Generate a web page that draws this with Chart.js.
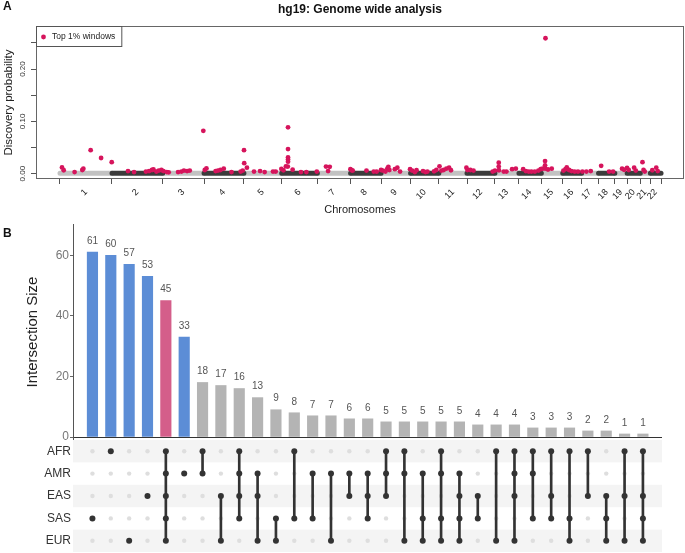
<!DOCTYPE html>
<html>
<head>
<meta charset="utf-8">
<script src="https://cdn.jsdelivr.net/npm/chart.js@4.4.1/dist/chart.umd.min.js"></script>
<style>
  body { margin: 0; background: #fff; width: 685px; height: 553px; position: relative; overflow: hidden; font-family: "Liberation Sans", Arial, sans-serif; }
  #panelA { position: absolute; left: 0; top: 0; }
  #panelB { position: absolute; left: 0; top: 220px; }
  .tag { position: absolute; font-weight: bold; font-size: 12px; line-height: 12px; color: #111; }
</style>
</head>
<body>
<canvas id="panelA" width="685" height="220"></canvas>
<canvas id="panelB" width="685" height="333"></canvas>
<div class="tag" style="left:3px;top:0px">A</div>
<div class="tag" style="left:3px;top:227px">B</div>
<script>
// ---- panel A : genome wide scan (hg19) ----
const chromosomes = ['1','2','3','4','5','6','7','8','9','10','11','12','13','14','15','16','17','18','19','20','21','22'];
const chromLengthMb = [249.25, 243.20, 198.02, 191.15, 180.92, 171.12, 159.14, 146.36, 141.21, 135.53, 135.01,
                       133.85, 115.17, 107.35, 102.53, 90.35, 81.20, 78.08, 59.13, 63.03, 48.13, 51.30];
const bandGaps = [[125, 135]];          // unassembled stretch on chr1 (genome Mb)
const backgroundLevel = 0.001;          // all other windows sit on the floor
const yTicks = [0, 0.05, 0.10, 0.15, 0.20, 0.25];
const yTickLabels = ['0.00', '', '0.10', '', '0.20', ''];

// top 1% windows : genome position (Mb, cumulative) and discovery probability
const topWindowPos = [
  9.6, 17.7, 70, 107, 112, 147, 197, 248,
  326, 355, 412, 427, 441, 448, 462, 473, 486,
  496, 512, 521, 566, 582, 594, 609, 622, 687,
  694, 702, 746, 757, 769, 785, 822, 866, 876,
  882, 883, 896, 930, 959, 981, 1021, 1034, 1061,
  1071, 1083, 1093, 1093, 1093, 1093, 1093, 1092, 1115, 1155, 1181, 1231,
  1275, 1285, 1293, 1392, 1398, 1403,
  1469, 1504, 1518, 1539,
  1548, 1560, 1569, 1574, 1579, 1605, 1617, 1630, 1678,
  1688, 1701, 1709, 1740, 1752, 1761, 1793, 1804, 1819,
  1828, 1839, 1852, 1865, 1874, 1948,
  1953, 1967, 1982, 2074, 2085,
  2103, 2103, 2104, 2127, 2140, 2167, 2185,
  2220, 2233, 2247, 2260, 2276, 2293, 2304,
  2313, 2325, 2325, 2326, 2327, 2339, 2357,
  2413, 2423, 2429, 2440, 2452, 2467, 2483,
  2504, 2523, 2544,
  2594, 2632, 2651,
  2694, 2704, 2718,
  2726, 2752, 2760,
  2792, 2797, 2803,
  2839, 2858, 2865
];
const topWindowProb = [
  0.012, 0.0065, 0.003, 0.007, 0.0095, 0.045, 0.030, 0.022,
  0.005, 0.003, 0.004, 0.005, 0.007, 0.008, 0.004, 0.006, 0.007,
  0.005, 0.003, 0.0025, 0.003, 0.004, 0.006, 0.005, 0.006, 0.082,
  0.007, 0.010, 0.005, 0.006, 0.007, 0.0095, 0.003, 0.004, 0.006,
  0.045, 0.020, 0.0115, 0.004, 0.005, 0.003, 0.004, 0.004, 0.009,
  0.0065, 0.014, 0.0887, 0.047, 0.031, 0.027, 0.023, 0.0135, 0.0077, 0.003, 0.003, 0.004,
  0.0135, 0.005, 0.013, 0.0085, 0.0065, 0.006,
  0.006, 0.004, 0.004, 0.007,
  0.006, 0.004, 0.0095, 0.013, 0.007, 0.0085, 0.0115, 0.004, 0.0085,
  0.006, 0.003, 0.0065, 0.005, 0.003, 0.004, 0.0045, 0.007, 0.014,
  0.006, 0.007, 0.0095, 0.0115, 0.0065, 0.0115,
  0.007, 0.007, 0.006, 0.004, 0.006,
  0.021, 0.0135, 0.0065, 0.004, 0.004, 0.0085, 0.0095,
  0.0085, 0.005, 0.004, 0.004, 0.004, 0.006, 0.0085,
  0.0095, 0.024, 0.016, 0.0095, 0.259, 0.008, 0.0095,
  0.006, 0.0085, 0.012, 0.007, 0.005, 0.004, 0.004,
  0.004, 0.004, 0.005,
  0.015, 0.004, 0.004,
  0.0095, 0.0075, 0.011,
  0.007, 0.0115, 0.006,
  0.022, 0.007, 0.004,
  0.0065, 0.0115, 0.005
];

// ---- panel B : UpSet of population intersections ----
const populations = ['AFR', 'AMR', 'EAS', 'SAS', 'EUR'];
const intersectionSizes = [61, 60, 57, 53, 45, 33, 18, 17, 16, 13, 9, 8, 7, 7, 6, 6, 5, 5, 5, 5, 5, 4, 4, 4, 3, 3, 3, 2, 2, 1, 1];
const intersectionSets = [
  ['SAS'], ['AFR'], ['EUR'], ['EAS'], ['AFR', 'AMR', 'EAS', 'SAS', 'EUR'], ['AMR'],
  ['AFR', 'AMR'], ['EAS', 'EUR'], ['AFR', 'AMR', 'EAS', 'SAS'], ['AMR', 'EAS', 'EUR'], ['SAS', 'EUR'],
  ['AFR', 'SAS'], ['AMR', 'SAS'], ['AMR', 'EUR'], ['AMR', 'EAS'], ['AMR', 'EAS', 'SAS'],
  ['AFR', 'AMR', 'EAS'], ['AFR', 'AMR', 'EUR'], ['AMR', 'SAS', 'EUR'], ['AFR', 'AMR', 'SAS', 'EUR'],
  ['AMR', 'EAS', 'SAS', 'EUR'], ['EAS', 'SAS'], ['AFR', 'EUR'], ['AFR', 'AMR', 'EAS', 'EUR'],
  ['AFR', 'AMR', 'SAS'], ['AFR', 'EAS', 'SAS'], ['AFR', 'SAS', 'EUR'], ['AFR', 'EAS'],
  ['EAS', 'SAS', 'EUR'], ['AFR', 'EAS', 'EUR'], ['AFR', 'EAS', 'SAS', 'EUR']
];
const sizeTicks = [0, 20, 40, 60];

Chart.defaults.font.family = '"Liberation Sans", Arial, sans-serif';

// chromosome layout on the genome axis
const chromStart = [];
let genomeEnd = 0;
chromLengthMb.forEach(len => { chromStart.push(genomeEnd); genomeEnd += len; });

function bandData(parity) {
  const out = [];
  chromosomes.forEach((c, i) => {
    if (i % 2 !== parity) return;
    let segs = [[chromStart[i], chromStart[i] + chromLengthMb[i]]];
    bandGaps.forEach(([g0, g1]) => {
      segs = segs.flatMap(([a, b]) => (g0 > a && g1 < b) ? [[a, g0], [g1, b]] : [[a, b]]);
    });
    segs.forEach(([a, b]) => {
      out.push({x: a, y: backgroundLevel}, {x: b, y: backgroundLevel}, {x: b, y: null});
    });
  });
  return out;
}

const TOP_COLOR = '#D6145C';

// box, top-left legend and rotated y labels, R style
const frameBox = {
  id: 'frameBox',
  afterDraw(chart) {
    const a = chart.chartArea, c = chart.ctx;
    c.save();
    c.strokeStyle = '#666';
    c.lineWidth = 1;
    c.strokeRect(a.left + 0.5, a.top + 0.5, a.right - a.left - 1, a.bottom - a.top - 1);

    const label = chart.data.datasets[0].label;
    c.font = '8.5px "Liberation Sans", Arial, sans-serif';
    const w = c.measureText(label).width;
    c.strokeStyle = '#555';
    c.fillStyle = '#fff';
    c.fillRect(a.left + 0.5, a.top + 0.5, w + 22, 20);
    c.strokeRect(a.left + 0.5, a.top + 0.5, w + 22, 20);
    c.fillStyle = TOP_COLOR;
    c.beginPath();
    c.arc(a.left + 7.5, a.top + 11, 2.4, 0, Math.PI * 2);
    c.fill();
    c.fillStyle = '#222';
    c.textBaseline = 'middle';
    c.fillText(label, a.left + 16, a.top + 11);
    c.restore();
  }
};

const verticalYLabels = {
  id: 'verticalYLabels',
  afterDraw(chart) {
    const s = chart.scales.y, c = chart.ctx;
    c.save();
    c.font = '8px "Liberation Sans", Arial, sans-serif';
    c.fillStyle = '#333';
    c.textAlign = 'center';
    c.textBaseline = 'middle';
    yTicks.forEach((v, i) => {
      if (!yTickLabels[i]) return;
      c.save();
      c.translate(s.right - 13, s.getPixelForValue(v));
      c.rotate(-Math.PI / 2);
      c.fillText(yTickLabels[i], 0, 0);
      c.restore();
    });
    c.restore();
  }
};

new Chart(document.getElementById('panelA'), {
  type: 'scatter',
  data: {
    datasets: [
      {
        label: 'Top 1% windows',
        data: topWindowPos.map((x, i) => ({x: x, y: topWindowProb[i]})),
        backgroundColor: TOP_COLOR,
        borderWidth: 0,
        pointRadius: 2.4,
        order: 0
      },
      {
        label: 'windows (odd)',
        data: bandData(0),
        showLine: true,
        spanGaps: false,
        borderColor: '#C2C2C2',
        borderWidth: 5,
        borderCapStyle: 'round',
        pointRadius: 0,
        order: 2
      },
      {
        label: 'windows (even)',
        data: bandData(1),
        showLine: true,
        spanGaps: false,
        borderColor: '#3C3C3C',
        borderWidth: 5,
        borderCapStyle: 'round',
        pointRadius: 0,
        order: 1
      }
    ]
  },
  options: {
    responsive: false,
    animation: false,
    layout: {autoPadding: false, padding: {left: 0, right: 1, top: 0, bottom: 0}},
    plugins: {
      title: {
        display: true,
        text: 'hg19: Genome wide analysis',
        fullSize: false,
        color: '#111',
        font: {size: 12, weight: 'bold'},
        padding: {top: 2, bottom: 9.6}
      },
      legend: {display: false},
      tooltip: {enabled: false}
    },
    scales: {
      x: {
        type: 'linear',
        min: -115,
        max: 2991,
        afterBuildTicks: s => {
          const t = chromStart.map(v => ({value: v, chrLabel: ''}));
          t.push({value: genomeEnd, chrLabel: ''});
          chromosomes.forEach((c, i) => t.push({value: chromStart[i] + chromLengthMb[i] / 2, chrLabel: c}));
          t.sort((a, b) => a.value - b.value);
          s.ticks = t;
        },
        ticks: {
          autoSkip: false,
          minRotation: 45,
          maxRotation: 45,
          padding: 3,
          color: '#222',
          font: {size: 9},
          callback: (v, i, ticks) => ticks[i].chrLabel
        },
        grid: {
          drawOnChartArea: false,
          tickLength: 5,
          tickColor: ctx => (ctx.tick && ctx.tick.chrLabel) ? 'rgba(0,0,0,0)' : '#555'
        },
        border: {display: false},
        title: {display: true, text: 'Chromosomes', color: '#222', font: {size: 11}, padding: {top: 0, bottom: 3}},
        afterFit: s => { s.height = 41; s.paddingLeft = 0; s.paddingRight = 0; }
      },
      y: {
        min: -0.0102,
        max: 0.2824,
        afterBuildTicks: s => { s.ticks = yTicks.map(v => ({value: v})); },
        ticks: {display: false},
        grid: {drawOnChartArea: false, tickLength: 5, tickColor: '#555'},
        border: {display: false},
        title: {display: true, text: 'Discovery probability', color: '#222', font: {size: 11.5}, padding: {top: 1.5, bottom: 0}},
        afterFit: s => { s.width = 36; s.paddingTop = 0; s.paddingBottom = 0; }
      }
    }
  },
  plugins: [frameBox, verticalYLabels]
});

// ---- panel B ----
const rowOf = Object.fromEntries(populations.map((p, i) => [p, i]));
const barColors = intersectionSets.map(set =>
  set.length === 1 ? '#5C8DD6' : (set.length === populations.length ? '#D45E8A' : '#B4B4B4'));
const activeDots = [], inactiveDots = [];
intersectionSets.forEach((set, col) => {
  populations.forEach((p, row) => (set.includes(p) ? activeDots : inactiveDots).push({x: col, y: row}));
});
const connectors = intersectionSets
  .map((set, col) => ({x: col, rows: set.map(p => rowOf[p])}))
  .filter(d => d.rows.length > 1)
  .map(d => ({x: d.x, y: [Math.min(...d.rows), Math.max(...d.rows)]}));

const rowStripes = {
  id: 'rowStripes',
  beforeDatasetsDraw(chart) {
    const s = chart.scales.y2, a = chart.chartArea, c = chart.ctx;
    c.save();
    c.fillStyle = '#F4F4F4';
    populations.forEach((p, i) => {
      if (i % 2) return;
      const t = s.getPixelForValue(i - 0.5), b = s.getPixelForValue(i + 0.5);
      c.fillRect(a.left, Math.min(t, b), a.right - a.left, Math.abs(b - t));
    });
    c.restore();
  }
};

const barValueLabels = {
  id: 'barValueLabels',
  afterDatasetsDraw(chart) {
    const meta = chart.getDatasetMeta(0), c = chart.ctx;
    c.save();
    c.font = '10px "Liberation Sans", Arial, sans-serif';
    c.fillStyle = '#555';
    c.textAlign = 'center';
    c.textBaseline = 'middle';
    meta.data.forEach((bar, i) => c.fillText(String(intersectionSizes[i]), bar.x, bar.y - 11));
    c.restore();
  }
};

new Chart(document.getElementById('panelB'), {
  type: 'bar',
  data: {
    datasets: [
      {
        label: 'Intersection size',
        data: intersectionSizes.map((v, i) => ({x: i, y: v})),
        backgroundColor: barColors,
        barThickness: 10.5,
        grouped: false,
        yAxisID: 'y',
        order: 3
      },
      {
        label: 'links',
        data: connectors,
        backgroundColor: '#333',
        barThickness: 2,
        grouped: false,
        yAxisID: 'y2',
        order: 1
      },
      {
        type: 'scatter',
        label: 'not in set',
        data: inactiveDots,
        backgroundColor: '#DEDEDE',
        borderWidth: 0,
        pointRadius: 2.2,
        yAxisID: 'y2',
        order: 2
      },
      {
        type: 'scatter',
        label: 'in set',
        data: activeDots,
        backgroundColor: '#333',
        borderWidth: 0,
        pointRadius: 3,
        yAxisID: 'y2',
        order: 0
      }
    ]
  },
  options: {
    responsive: false,
    animation: false,
    layout: {autoPadding: false, padding: {left: 0, right: 23, top: 4, bottom: 1}},
    plugins: {legend: {display: false}, tooltip: {enabled: false}},
    scales: {
      x: {type: 'linear', min: -1.06, max: 31.04, offset: false, grid: {offset: false}, display: false},
      y: {
        type: 'linear',
        stack: 'upset',
        stackWeight: 216,
        weight: 1,
        position: 'left',
        min: -0.99,
        max: 70.3,
        afterBuildTicks: s => { s.ticks = sizeTicks.map(v => ({value: v})); },
        ticks: {color: '#777', font: {size: 12}, padding: 1},
        grid: {
          drawOnChartArea: true,
          color: ctx => (ctx.tick && ctx.tick.value === 0) ? '#333' : 'rgba(0,0,0,0)',
          tickColor: '#666',
          tickLength: 3
        },
        border: {display: true, color: '#555'},
        title: {display: true, text: 'Intersection Size', color: '#222', font: {size: 15}, padding: {top: 24, bottom: 0}},
        afterFit: s => { s.width = 73; s.paddingTop = 0; s.paddingBottom = 0; }
      },
      y2: {
        type: 'linear',
        stack: 'upset',
        stackWeight: 112,
        weight: 0,
        position: 'left',
        min: -0.5,
        max: 4.5,
        reverse: true,
        afterBuildTicks: s => { s.ticks = populations.map((p, i) => ({value: i})); },
        ticks: {autoSkip: false, color: '#333', font: {size: 12}, padding: 2, callback: (v, i) => populations[i]},
        grid: {display: false, drawTicks: false},
        border: {display: false},
        afterFit: s => { s.width = 73; s.paddingTop = 0; s.paddingBottom = 0; }
      }
    }
  },
  plugins: [rowStripes, barValueLabels]
});
</script>
</body>
</html>
